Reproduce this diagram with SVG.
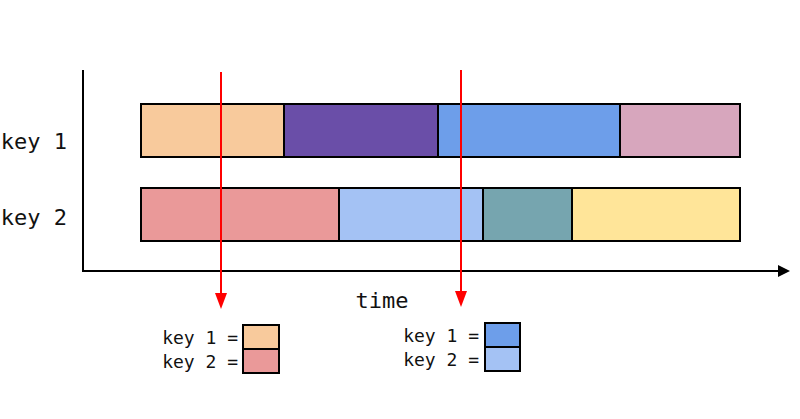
<svg xmlns="http://www.w3.org/2000/svg" width="800" height="419" viewBox="0 0 800 419">
<defs>
<marker id="ab" markerWidth="10" markerHeight="10" refX="9" refY="5" orient="auto" markerUnits="userSpaceOnUse"><path d="M0,0 L10,5 L0,10 z" fill="#000"/></marker>
<marker id="ar" markerWidth="12" markerHeight="16" refX="6" refY="16" orient="auto" markerUnits="userSpaceOnUse"><path d="M0,0 L12,0 L6,16 z" fill="#f00" transform="rotate(-90 6 8) translate(-2 -2)"/></marker>
<style>
.s{stroke:#000;stroke-width:2}
.t{font-family:"DejaVu Sans Mono",monospace;fill:#111}
.red{stroke:#f00;stroke-width:2}
</style>
</defs>
<rect width="800" height="419" fill="#fff"/>
<g id="row1">
<rect class="s" x="141" y="104" width="143" height="53" fill="#f8ca9c"/>
<rect class="s" x="284" y="104" width="154" height="53" fill="#6a4ea8"/>
<rect class="s" x="438" y="104" width="182" height="53" fill="#6d9eea"/>
<rect class="s" x="620" y="104" width="120" height="53" fill="#d7a6bd"/>
</g>
<g id="row2">
<rect class="s" x="141" y="188" width="198" height="53" fill="#ea9999"/>
<rect class="s" x="339" y="188" width="144" height="53" fill="#a4c2f4"/>
<rect class="s" x="483" y="188" width="89" height="53" fill="#76a5af"/>
<rect class="s" x="572" y="188" width="168" height="53" fill="#ffe599"/>
</g>
<g id="labels" class="t" font-size="22" text-anchor="end">
<text x="67" y="149">key 1</text>
<text x="67" y="225">key 2</text>
<text x="382" y="308" text-anchor="middle">time</text>
</g>
<g id="connectors">
<path class="s" d="M83,70 V271 H780" fill="none"/>
<path d="M778,265 L790,271 L778,277 z" fill="#000"/>
<line class="red" x1="221" y1="72" x2="221" y2="295"/>
<path d="M215,293 L227,293 L221,309 z" fill="#f00"/>
<line class="red" x1="461" y1="70" x2="461" y2="293"/>
<path d="M455,291 L467,291 L461,307 z" fill="#f00"/>
</g>
<g id="legend1">
<rect class="s" x="243" y="325" width="36" height="24" fill="#f8ca9c"/>
<rect class="s" x="243" y="349" width="36" height="24" fill="#ea9999"/>
<text class="t" font-size="18" x="238" y="344" text-anchor="end">key 1 =</text>
<text class="t" font-size="18" x="238" y="368" text-anchor="end">key 2 =</text>
</g>
<g id="legend2">
<rect class="s" x="485" y="323" width="35" height="24" fill="#6d9eea"/>
<rect class="s" x="485" y="347" width="35" height="24" fill="#a4c2f4"/>
<text class="t" font-size="18" x="479" y="342" text-anchor="end">key 1 =</text>
<text class="t" font-size="18" x="479" y="366" text-anchor="end">key 2 =</text>
</g>
</svg>
